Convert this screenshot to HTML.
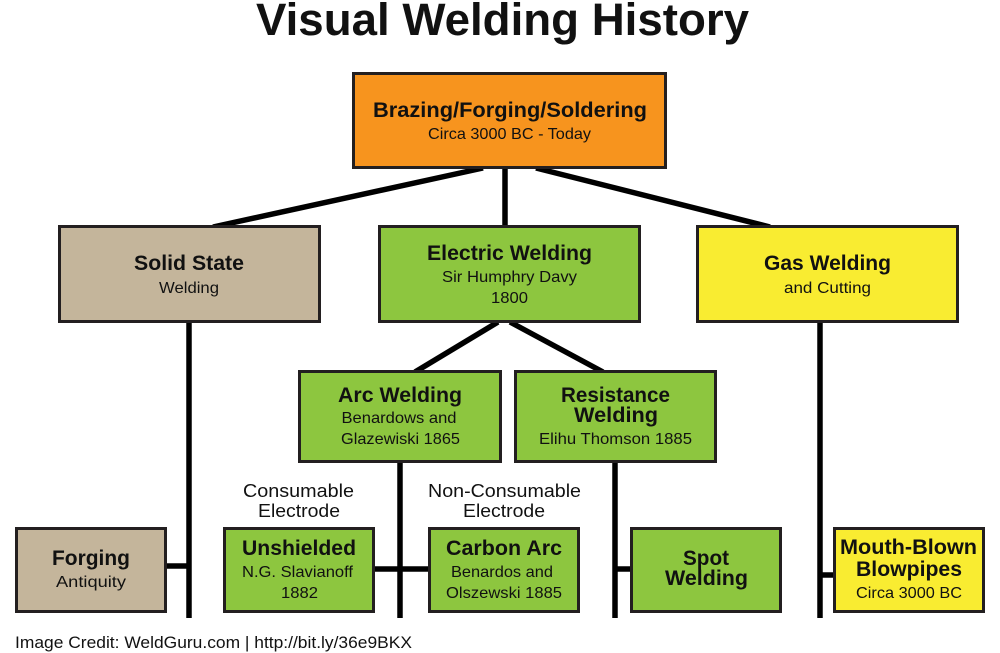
<!DOCTYPE html>
<html>
<head>
<meta charset="utf-8">
<style>
  html,body{margin:0;padding:0;background:#fff;}
  svg{display:block;}
  text{font-family:"Liberation Sans", sans-serif;fill:#111;}
  .b{font-weight:bold;}
</style>
</head>
<body>
<svg width="1000" height="653" viewBox="0 0 1000 653" xmlns="http://www.w3.org/2000/svg">
  <rect width="1000" height="653" fill="#fff"/>
  <!-- Title -->
  <text class="b" x="502.5" y="35" font-size="45" text-anchor="middle" textLength="493" lengthAdjust="spacingAndGlyphs">Visual Welding History</text>

  <!-- connectors -->
  <g stroke="#000" stroke-width="5.5" fill="none">
    <line x1="483" y1="168" x2="213" y2="227"/>
    <line x1="505" y1="168" x2="505" y2="227"/>
    <line x1="536" y1="168" x2="770" y2="227"/>
    <line x1="498" y1="322" x2="415" y2="372"/>
    <line x1="510" y1="322" x2="603" y2="372"/>
    <line x1="189" y1="322" x2="189" y2="618"/>
    <line x1="400" y1="462" x2="400" y2="618"/>
    <line x1="615" y1="462" x2="615" y2="618"/>
    <line x1="820" y1="322" x2="820" y2="618"/>
    <line x1="166" y1="566" x2="189" y2="566"/>
    <line x1="374" y1="569" x2="429" y2="569"/>
    <line x1="615" y1="569" x2="631" y2="569"/>
    <line x1="820" y1="575" x2="834" y2="575"/>
  </g>

  <!-- boxes -->
  <g stroke="#231F20" stroke-width="3">
    <rect x="353.5" y="73.5" width="312" height="94" fill="#F7941E"/>
    <rect x="59.5" y="226.5" width="260" height="95" fill="#C4B59B"/>
    <rect x="379.5" y="226.5" width="260" height="95" fill="#8DC63F"/>
    <rect x="697.5" y="226.5" width="260" height="95" fill="#F9EC31"/>
    <rect x="299.5" y="371.5" width="201" height="90" fill="#8DC63F"/>
    <rect x="515.5" y="371.5" width="200" height="90" fill="#8DC63F"/>
    <rect x="16.5" y="528.5" width="149" height="83" fill="#C4B59B"/>
    <rect x="224.5" y="528.5" width="149" height="83" fill="#8DC63F"/>
    <rect x="429.5" y="528.5" width="149" height="83" fill="#8DC63F"/>
    <rect x="631.5" y="528.5" width="149" height="83" fill="#8DC63F"/>
    <rect x="834.5" y="528.5" width="149" height="83" fill="#F9EC31"/>
  </g>

  <g text-anchor="middle">
    <!-- Orange -->
    <text class="b" x="510" y="117" font-size="21" textLength="274" lengthAdjust="spacingAndGlyphs">Brazing/Forging/Soldering</text>
    <text x="509.5" y="139" font-size="16" textLength="163" lengthAdjust="spacingAndGlyphs">Circa 3000 BC - Today</text>

    <!-- Solid State -->
    <text class="b" x="189" y="270" font-size="21" textLength="110" lengthAdjust="spacingAndGlyphs">Solid State</text>
    <text x="189" y="293" font-size="16" textLength="60" lengthAdjust="spacingAndGlyphs">Welding</text>

    <!-- Electric -->
    <text class="b" x="509.5" y="260" font-size="21" textLength="165" lengthAdjust="spacingAndGlyphs">Electric Welding</text>
    <text x="509.5" y="282" font-size="16" textLength="135" lengthAdjust="spacingAndGlyphs">Sir Humphry Davy</text>
    <text x="509.5" y="303" font-size="16" textLength="37" lengthAdjust="spacingAndGlyphs">1800</text>

    <!-- Gas -->
    <text class="b" x="827.5" y="270" font-size="21" textLength="127" lengthAdjust="spacingAndGlyphs">Gas Welding</text>
    <text x="827.5" y="293" font-size="16" textLength="87" lengthAdjust="spacingAndGlyphs">and Cutting</text>

    <!-- Arc -->
    <text class="b" x="400" y="402" font-size="21" textLength="124" lengthAdjust="spacingAndGlyphs">Arc Welding</text>
    <text x="399" y="423" font-size="16" textLength="115" lengthAdjust="spacingAndGlyphs">Benardows and</text>
    <text x="400.5" y="444" font-size="16" textLength="119" lengthAdjust="spacingAndGlyphs">Glazewiski 1865</text>

    <!-- Resistance -->
    <text class="b" x="615.5" y="402" font-size="21" textLength="109" lengthAdjust="spacingAndGlyphs">Resistance</text>
    <text class="b" x="616" y="422" font-size="21" textLength="84" lengthAdjust="spacingAndGlyphs">Welding</text>
    <text x="615.5" y="444" font-size="16" textLength="153" lengthAdjust="spacingAndGlyphs">Elihu Thomson 1885</text>

    <!-- Labels -->
    <text x="298.5" y="497" font-size="18" fill="#222" textLength="111" lengthAdjust="spacingAndGlyphs">Consumable</text>
    <text x="299" y="517" font-size="18" fill="#222" textLength="82" lengthAdjust="spacingAndGlyphs">Electrode</text>
    <text x="504.5" y="497" font-size="18" fill="#222" textLength="153" lengthAdjust="spacingAndGlyphs">Non-Consumable</text>
    <text x="504" y="517" font-size="18" fill="#222" textLength="82" lengthAdjust="spacingAndGlyphs">Electrode</text>

    <!-- Forging -->
    <text class="b" x="91" y="565" font-size="21" textLength="78" lengthAdjust="spacingAndGlyphs">Forging</text>
    <text x="91" y="587" font-size="16" textLength="70" lengthAdjust="spacingAndGlyphs">Antiquity</text>

    <!-- Unshielded -->
    <text class="b" x="299" y="555" font-size="21" textLength="114" lengthAdjust="spacingAndGlyphs">Unshielded</text>
    <text x="297.5" y="577" font-size="16" textLength="111" lengthAdjust="spacingAndGlyphs">N.G. Slavianoff</text>
    <text x="299.5" y="598" font-size="16" textLength="37" lengthAdjust="spacingAndGlyphs">1882</text>

    <!-- Carbon Arc -->
    <text class="b" x="504" y="555" font-size="21" textLength="116" lengthAdjust="spacingAndGlyphs">Carbon Arc</text>
    <text x="502" y="577" font-size="16" textLength="102" lengthAdjust="spacingAndGlyphs">Benardos and</text>
    <text x="504" y="598" font-size="16" textLength="116" lengthAdjust="spacingAndGlyphs">Olszewski 1885</text>

    <!-- Spot -->
    <text class="b" x="706" y="565" font-size="21" textLength="46" lengthAdjust="spacingAndGlyphs">Spot</text>
    <text class="b" x="706.5" y="585" font-size="21" textLength="83" lengthAdjust="spacingAndGlyphs">Welding</text>

    <!-- Mouth-Blown -->
    <text class="b" x="908.5" y="554" font-size="21" textLength="137" lengthAdjust="spacingAndGlyphs">Mouth-Blown</text>
    <text class="b" x="909" y="576" font-size="21" textLength="106" lengthAdjust="spacingAndGlyphs">Blowpipes</text>
    <text x="909" y="598" font-size="16" textLength="106" lengthAdjust="spacingAndGlyphs">Circa 3000 BC</text>
  </g>

  <!-- Credit -->
  <text x="15" y="648" font-size="17" textLength="397" lengthAdjust="spacingAndGlyphs">Image Credit: WeldGuru.com | http://bit.ly/36e9BKX</text>
</svg>
</body>
</html>
